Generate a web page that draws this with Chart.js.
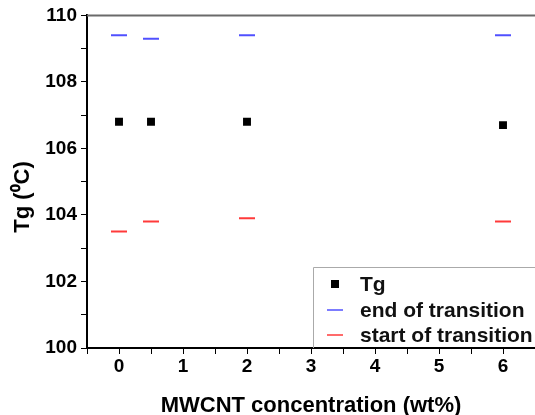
<!DOCTYPE html>
<html>
<head>
<meta charset="utf-8">
<script src="https://cdn.jsdelivr.net/npm/chart.js@4"></script>
<style>
    html, body { margin: 0; padding: 0; overflow: hidden; background: #fff; }
    #wrap { width: 545px; height: 415px; }
</style>
</head>
<body>
<div id="wrap"><canvas id="myChart"></canvas></div>
<script>
const concentration = [0, 0.5, 2, 6];
const tg = [106.8, 106.8, 106.8, 106.7];
const endTransition = [109.4, 109.3, 109.4, 109.4];
const startTransition = [103.5, 103.8, 103.9, 103.8];
const legendLabels = ['Tg', 'end of transition', 'start of transition'];

const FONT = 'Liberation Sans, Arial, sans-serif';

function toPoints(ys) {
    return concentration.map((x, i) => ({ x: x, y: ys[i] }));
}

// top frame line + boxed legend in the lower right corner
const frameLegend = {
    id: 'frameLegend',
    afterDraw(chart) {
        const ctx = chart.ctx;
        const a = chart.chartArea;
        ctx.save();
        ctx.strokeStyle = '#6a6a6a';
        ctx.lineWidth = 2;
        ctx.beginPath();
        ctx.moveTo(a.left, a.top);
        ctx.lineTo(a.right + 10, a.top);
        ctx.stroke();

        const bx = 313, by = 267;
        ctx.strokeStyle = '#aaaaaa';
        ctx.lineWidth = 1;
        ctx.beginPath();
        ctx.moveTo(bx + 0.5, a.bottom);
        ctx.lineTo(bx + 0.5, by + 0.5);
        ctx.lineTo(a.right + 10, by + 0.5);
        ctx.stroke();

        ctx.font = 'bold 21px ' + FONT;
        ctx.textBaseline = 'middle';
        const rows = [284, 310, 335];
        chart.data.datasets.forEach((ds, i) => {
            const y = rows[i];
            if (ds.pointStyle === 'rect') {
                ctx.fillStyle = ds.pointBackgroundColor;
                ctx.fillRect(331, y - 4, 8, 8);
            } else {
                ctx.strokeStyle = ds.pointBorderColor;
                ctx.lineWidth = 1.5;
                ctx.beginPath();
                ctx.moveTo(327, y);
                ctx.lineTo(343, y);
                ctx.stroke();
            }
            ctx.fillStyle = '#111';
            ctx.fillText(legendLabels[i], 360, y + 1);
        });
        ctx.restore();
    }
};

new Chart(document.getElementById('myChart'), {
    type: 'scatter',
    data: {
        datasets: [{
            label: legendLabels[0],
            data: toPoints(tg),
            pointStyle: 'rect',
            pointRadius: 5.6,
            pointBackgroundColor: '#000',
            pointBorderColor: '#000',
            pointBorderWidth: 0,
        }, {
            label: legendLabels[1],
            data: toPoints(endTransition),
            pointStyle: 'line',
            pointRadius: 8,
            pointBorderColor: '#5050ff',
            pointBorderWidth: 2,
        }, {
            label: legendLabels[2],
            data: toPoints(startTransition),
            pointStyle: 'line',
            pointRadius: 8,
            pointBorderColor: '#ff3a3a',
            pointBorderWidth: 2,
        }]
    },
    options: {
        responsive: true,
        maintainAspectRatio: false,
        animation: false,
        layout: { padding: { top: 14, right: 5.5, left: 0, bottom: 0 } },
        plugins: {
            legend: { display: false },
            tooltip: { enabled: false }
        },
        scales: {
            x: {
                type: 'linear',
                min: -0.5,
                max: 6.5,
                afterFit: (s) => { s.height = 67; },
                afterBuildTicks: (s) => {
                    const t = [];
                    for (let v = -0.5; v <= 6.5; v += 0.5) t.push({ value: v });
                    s.ticks = t;
                },
                border: { color: '#000', width: 2 },
                grid: { drawOnChartArea: false, tickLength: 6, tickColor: '#000', tickWidth: 1 },
                ticks: {
                    color: '#000',
                    padding: 1,
                    font: { family: FONT, size: 19, weight: 'bold' },
                    callback: (v) => (Number.isInteger(v) && v >= 0 ? v : '')
                },
                title: {
                    display: true,
                    text: 'MWCNT concentration (wt%)',
                    color: '#000',
                    font: { family: FONT, size: 22, weight: 'bold' },
                    padding: { top: 4, bottom: -4 }
                }
            },
            y: {
                min: 100,
                max: 110,
                afterFit: (s) => { s.width = 87; },
                afterBuildTicks: (s) => {
                    const t = [];
                    for (let v = 100; v <= 110; v += 1) t.push({ value: v });
                    s.ticks = t;
                },
                border: { color: '#000', width: 2 },
                grid: { drawOnChartArea: false, tickLength: 6, tickColor: '#000', tickWidth: 1 },
                ticks: {
                    color: '#000',
                    padding: 4,
                    font: { family: FONT, size: 19, weight: 'bold' },
                    callback: (v) => (v % 2 === 0 ? v : '')
                },
                title: {
                    display: true,
                    text: 'Tg (\u2070C)     ',
                    color: '#000',
                    font: { family: FONT, size: 22, weight: 'bold' },
                    padding: { top: 10, bottom: 0 }
                }
            }
        }
    },
    plugins: [frameLegend]
});
</script>
</body>
</html>
